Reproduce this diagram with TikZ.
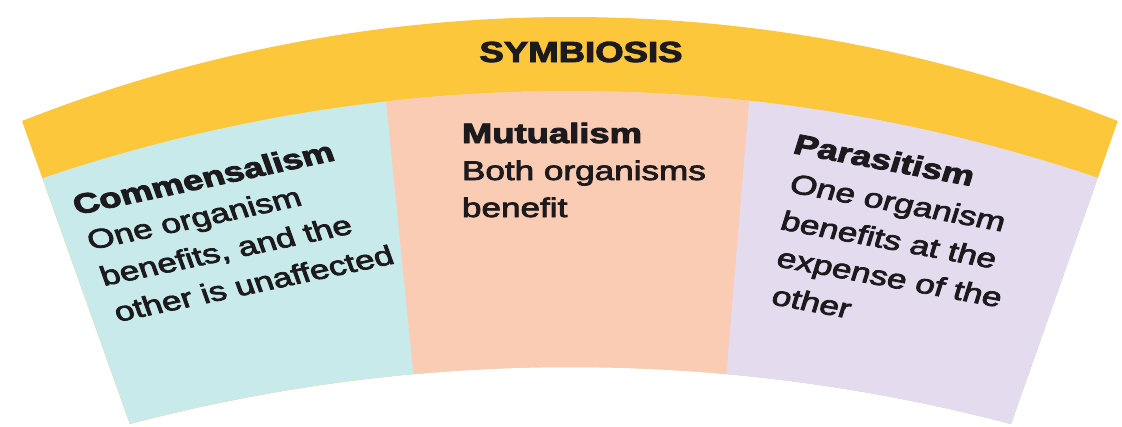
\documentclass[tikz,border=0pt]{standalone}
\usepackage{fontspec}
\setmainfont{Liberation Sans}
\newfontfamily\bodyfont{Liberation Sans}[FakeBold=2.6]
\newfontfamily\headfont{Liberation Sans}[BoldFeatures={FakeBold=3}]
\definecolor{symyellow}{HTML}{FDC73C}
\definecolor{symteal}{HTML}{C9EAEA}
\definecolor{sympeach}{HTML}{FBCCB4}
\definecolor{symlav}{HTML}{E5DBEF}
\definecolor{symtext}{HTML}{1C1A1D}
\begin{document}
\begin{tikzpicture}[x=1pt,y=1pt,
  txt/.style={inner sep=0pt, outer sep=0pt, anchor=base west, text=symtext,
              transform shape, font=\bodyfont\fontsize{27}{32}\selectfont},
  ttl/.style={txt, font=\headfont\bfseries\fontsize{28}{32}\selectfont},
  midrot/.style={xscale=1.3},
  leftrot/.style={xscale=1.3, rotate=15.4},
  rightrot/.style={xscale=1.3, rotate=-13.5}]
\useasboundingbox (0,0) rectangle (1122,-426);
\fill[white] (0,0) rectangle (1122,-426);
% band and panels
\begin{scope}
  \clip (22,-121) arc[start angle=111.5, end angle=68.5, radius=1495]
        -- (1011,-424) arc[start angle=75.25, end angle=104.75, radius=1730.6] -- cycle;
  \fill[symyellow] (-200,50) rectangle (1300,-500);
  \begin{scope}
    \clip (-123.6,-244.9) arc[start angle=115, end angle=65, radius=1642.4]
          -- (1264.6,-500) -- (-123.6,-500) -- cycle;
    \fill[symteal] (-200,50) rectangle (1300,-500);
    \fill[sympeach] (375.9,0) -- (757.6,0) -- (721,-440) -- (420,-440) -- cycle;
    \fill[symlav] (757.6,0) -- (1300,0) -- (1300,-440) -- (721,-440) -- cycle;
  \end{scope}
\end{scope}
% title
\begin{scope}[shift={(581,-62)}, xscale=1.26]
  \node[txt, anchor=base, font=\headfont\bfseries\fontsize{29}{32}\selectfont] (sym) at (0,0) {SYMBIOSIS};
\end{scope}
% left panel
\begin{scope}[shift={(77,-215)}, leftrot]\node[ttl] (com) at (0,0) {Commensalism};\end{scope}
\begin{scope}[shift={(91,-250)}, leftrot]\node[txt] (com1) at (0,0) {One organism};\end{scope}
\begin{scope}[shift={(104,-286)}, leftrot]\node[txt] (com2) at (0,0) {benefits, and the};\end{scope}
\begin{scope}[shift={(118,-322)}, leftrot]\node[txt] (com3) at (0,0) {other is unaffected};\end{scope}
% middle panel
\begin{scope}[shift={(462,-143)}, midrot]\node[ttl] (mut) at (0,0) {Mutualism};\end{scope}
\begin{scope}[shift={(462,-180)}, midrot]\node[txt] (mut1) at (0,0) {Both organisms};\end{scope}
\begin{scope}[shift={(462,-217)}, midrot]\node[txt] (mut2) at (0,0) {benefit};\end{scope}
% right panel
\begin{scope}[shift={(792,-153)}, rightrot]\node[ttl] (par) at (0,0) {Parasitism};\end{scope}
\begin{scope}[shift={(788,-192)}, rightrot]\node[txt] (par1) at (0,0) {One organism};\end{scope}
\begin{scope}[shift={(779,-229)}, rightrot]\node[txt] (par2) at (0,0) {benefits at the};\end{scope}
\begin{scope}[shift={(775,-266)}, rightrot]\node[txt] (par3) at (0,0) {expense of the};\end{scope}
\begin{scope}[shift={(770,-304)}, rightrot]\node[txt] (par4) at (0,0) {other};\end{scope}
\end{tikzpicture}
\end{document}
